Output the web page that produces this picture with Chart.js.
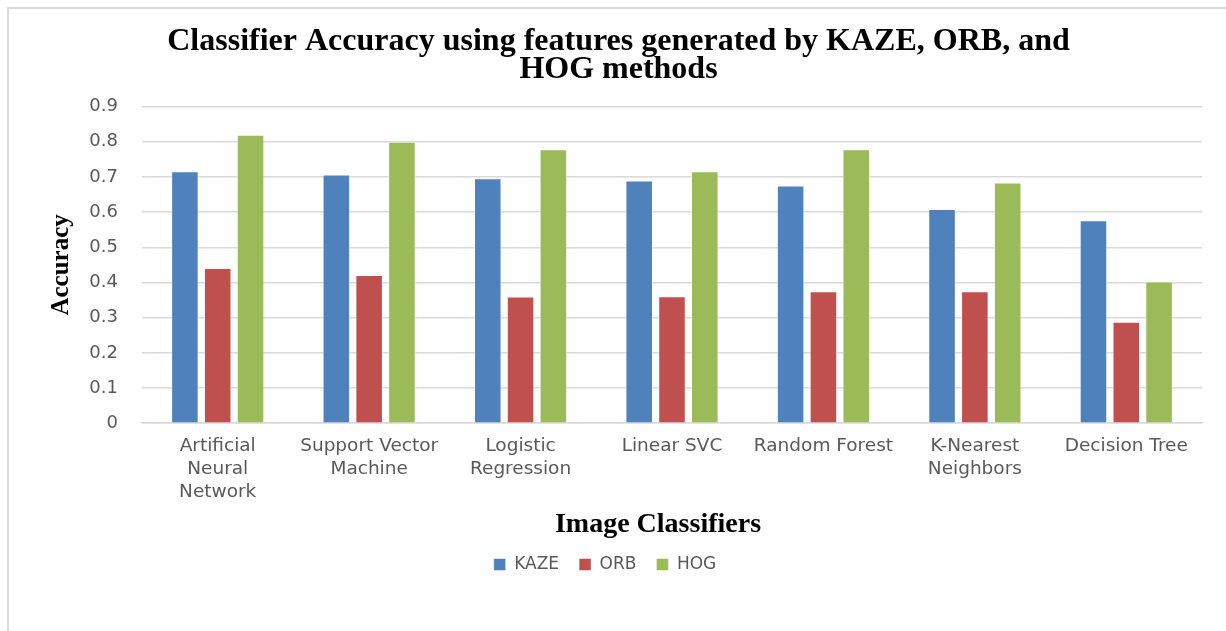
<!DOCTYPE html>
<html>
<head>
<meta charset="utf-8">
<script src="https://cdn.jsdelivr.net/npm/chart.js@4.4.1/dist/chart.umd.min.js"></script>
<style>
  html, body { margin: 0; padding: 0; background: #fff; }
  #frame {
    position: absolute; left: 7px; top: 7px; width: 1219px; height: 624px;
    border-top: 2px solid #d9d9d9; border-left: 2px solid #d9d9d9;
  }
  #chart { display: block; }
</style>
</head>
<body>
<div id="frame"><canvas id="chart"></canvas></div>
<script>
// categories (multi-line labels as in the original)
const classifiers = [
  ["Artificial", "Neural", "Network"],
  ["Support Vector", "Machine"],
  ["Logistic", "Regression"],
  "Linear SVC",
  "Random Forest",
  ["K-Nearest", "Neighbors"],
  "Decision Tree"
];

const kaze = [0.716, 0.707, 0.696, 0.690, 0.676, 0.609, 0.577];
const orb  = [0.441, 0.421, 0.360, 0.361, 0.375, 0.375, 0.288];
const hog  = [0.820, 0.800, 0.779, 0.716, 0.779, 0.684, 0.403];

const seriesNames = ["KAZE", "ORB", "HOG"];
const seriesColors = ["#4F81BD", "#C0504D", "#9BBB59"];
const yTicks = [0, 0.1, 0.2, 0.3, 0.4, 0.5, 0.6, 0.7, 0.8, 0.9];

const gray = "#595959";
const sans = "'DejaVu Sans', 'Open Sans', sans-serif";
const serif = "'Liberation Serif', 'DejaVu Serif', serif";

const ctx = document.getElementById("chart").getContext("2d");

new Chart(ctx, {
  type: "bar",
  data: {
    labels: classifiers,
    datasets: [kaze, orb, hog].map((vals, i) => ({
      label: seriesNames[i],
      data: vals,
      backgroundColor: seriesColors[i],
      borderColor: "rgba(255,255,255,0.5)",
      borderWidth: 1,
      barPercentage: 0.84,
      categoryPercentage: 0.65
    }))
  },
  options: {
    responsive: true,
    maintainAspectRatio: false,
    animation: false,
    layout: { padding: { left: 26, right: 26, top: 0, bottom: 50 } },
    plugins: {
      title: {
        display: true,
        text: ["Classifier Accuracy using features generated by KAZE, ORB, and", "HOG methods"],
        color: "#000",
        font: { family: serif, size: 32, weight: "bold", lineHeight: 0.9 },
        padding: { top: 18, bottom: 22 }
      },
      legend: {
        position: "bottom",
        labels: {
          color: gray,
          font: { family: sans, size: 17 },
          boxWidth: 12,
          boxHeight: 12,
          padding: 20,
          // legend in the original sits a little left of centre: pad the last entry
          generateLabels: chart => {
            const items = Chart.defaults.plugins.legend.labels.generateLabels(chart);
            items[items.length - 1].text += "     ";
            return items;
          }
        }
      },
      tooltip: { enabled: false }
    },
    scales: {
      x: {
        grid: { display: false, drawTicks: false },
        border: { color: "#d9d9d9", width: 1.5 },
        ticks: {
          color: gray,
          font: { family: sans, size: 18.5, lineHeight: 1.24 },
          padding: 12,
          maxRotation: 0,
          autoSkip: false
        },
        title: {
          display: true,
          text: "Image Classifiers    ",
          color: "#000",
          font: { family: serif, size: 28, weight: "bold", lineHeight: 1.0 },
          padding: { top: -5, bottom: -3 }
        }
      },
      y: {
        min: 0,
        max: 0.9,
        afterBuildTicks: axis => { axis.ticks = yTicks.map(v => ({ value: v })); },
        afterFit: axis => { axis.width = 107; },
        grid: { color: "#d9d9d9", lineWidth: 1.5, drawTicks: false },
        border: { display: false },
        ticks: {
          color: gray,
          font: { family: sans, size: 18 },
          padding: 24,
          callback: v => String(Math.round(v * 10) / 10)
        },
        title: {
          display: true,
          text: "Accuracy",
          color: "#000",
          font: { family: serif, size: 25, weight: "bold" },
          padding: { top: 12, bottom: 14 }
        }
      }
    }
  }
});
</script>
</body>
</html>
